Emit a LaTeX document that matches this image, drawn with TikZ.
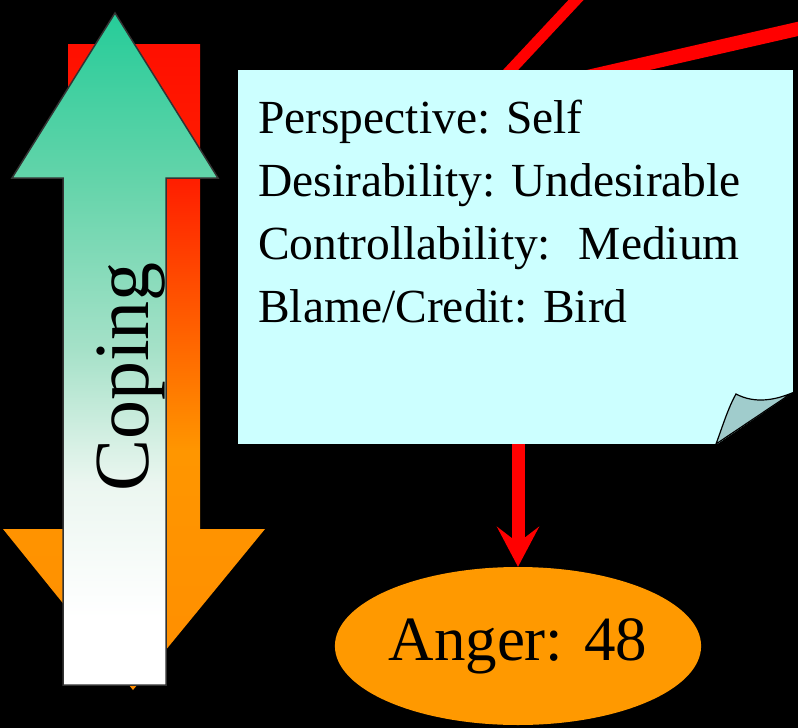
\documentclass[tikz,border=0pt]{standalone}
\usepackage{fontspec}
\setmainfont{Liberation Serif}
\usetikzlibrary{arrows.meta, shapes.geometric}
\definecolor{notecyan}{RGB}{204,255,255}
\definecolor{foldteal}{RGB}{160,204,204}
\definecolor{angerorange}{RGB}{255,153,0}
\definecolor{copetop}{RGB}{38,204,153}
\definecolor{copehead}{RGB}{100,212,170}
\definecolor{copemid}{RGB}{165,225,200}
\definecolor{copelow}{RGB}{235,246,240}
\definecolor{hotred}{RGB}{255,15,0}
\definecolor{hotred2}{RGB}{255,30,0}
\definecolor{hotorange}{RGB}{255,150,0}
\definecolor{hotbase}{RGB}{255,142,0}

% vertical fades (path box spans 25bp..75bp)
\pgfdeclareverticalshading{copingfade}{100bp}{color(0bp)=(white);
  color(30bp)=(white); color(40bp)=(copelow); color(50bp)=(copemid);
  color(62.5bp)=(copehead); color(75bp)=(copetop); color(100bp)=(copetop)}
\pgfdeclareverticalshading{appraisalfade}{100bp}{color(0bp)=(hotbase);
  color(25bp)=(hotbase); color(43.5bp)=(hotorange); color(64.5bp)=(hotred2);
  color(75bp)=(hotred); color(100bp)=(hotred)}

\begin{document}
\begin{tikzpicture}[
  x=1pt, y=-1pt,
  notebox/.style={rectangle, fill=notecyan, inner sep=0pt,
                  minimum width=555pt, minimum height=374pt},
  noteline/.style={anchor=base west, inner sep=0pt,
                   font=\fontsize{47.5}{55}\selectfont},
  emotion/.style={ellipse, fill=angerorange, inner sep=0pt,
                  minimum width=366pt, minimum height=158pt,
                  font=\fontsize{63}{70}\selectfont},
  copetext/.style={rotate=90, anchor=base, inner sep=0pt,
                   font=\fontsize{78}{80}\selectfont},
  redlink/.style={red, line width=13pt},
  redarrow/.style={-{Stealth[length=40pt, width=42pt, inset=16pt]},
                   red, line width=13pt}
]

% background
\fill[black] (0,0) rectangle (798,728);

% appraisal arrow (down) and coping arrow (up)
\shade[shading=appraisalfade]
  (68,44) -- (200,44) -- (200,529) -- (265,529) -- (133,690)
  -- (3,529) -- (68,529) -- cycle;
\shade[draw=black!80, line width=1.5pt, shading=copingfade]
  (115,13) -- (218,178) -- (166,178) -- (166,685) -- (63,685)
  -- (63,178) -- (12,178) -- cycle;
\node[copetext] (coping) at (148,377) {Coping};

% incoming links
\begin{scope}
  \clip (0,0) rectangle (798,728);
  \coordinate (src1) at (590,-15);
  \coordinate (src2) at (850,17);
  \draw[redlink, line width=11pt] (src1) -- (490,92);
  \draw[redlink, line width=14pt] (src2) -- (500,97);
\end{scope}

% appraisal note
\node[notebox] (note) at (515.5,257) {};
\foreach \i/\t in {0/{Perspective: Self},
                   1/{Desirability: Undesirable},
                   2/{Controllability:~ Medium},
                   3/{Blame/Credit: Bird}}{
  \node[noteline] (line\i) at (258,133+63.3*\i) {\t};
}
\fill[black] (716,445) -- (794,445) -- (794,392) -- cycle;
\filldraw[fill=foldteal, draw=black, line width=1.2pt]
  (716,444) .. controls (722,428) and (728,408) .. (736,394)
  .. controls (755,404) and (775,400) .. (792,393) -- cycle;

% emotion
\node[emotion] (anger) at (518,646) {Anger: 48};
\draw[redarrow] (note.south -| anger.north) -- (anger.north);

\end{tikzpicture}
\end{document}
